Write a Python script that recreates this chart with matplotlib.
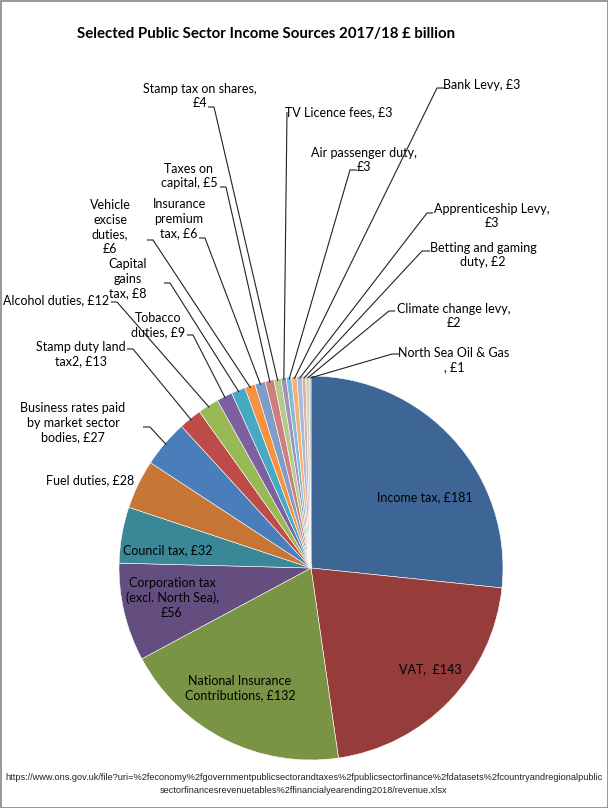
import numpy as np
import matplotlib.pyplot as plt
from matplotlib.patches import Rectangle

plt.rcParams['font.family'] = ['Lato', 'DejaVu Sans']

# data (£ billion), clockwise from 12 o'clock
names = ["Income tax", "VAT", "National Insurance Contributions",
         "Corporation tax (excl. North Sea)", "Council tax", "Fuel duties",
         "Business rates paid by market sector bodies", "Stamp duty land tax2",
         "Alcohol duties", "Tobacco duties", "Capital gains tax",
         "Vehicle excise duties", "Insurance premium tax", "Taxes on capital",
         "Stamp tax on shares", "TV Licence fees", "Air passenger duty",
         "Bank Levy", "Apprenticeship Levy", "Betting and gaming duty",
         "Climate change levy", "North Sea Oil & Gas"]
values = [181, 143, 132, 56, 32, 28, 27, 13, 12, 9, 8, 6, 6, 5, 4, 3, 3, 3, 3, 2, 2, 1]

colors = ["#3d6697", "#963c3b", "#799445", "#634e7f", "#3a8797", "#c77636",
          "#4a7ebb", "#be4b48", "#98b954", "#7d60a0", "#46aac5", "#f69240",
          "#7f9dc9", "#cd7f7d", "#b3cb8a", "#a190b9", "#7dc0d5", "#f9ae72",
          "#a7bcdb", "#dca9a8", "#ccdab4", "#bcb0ce"]

title = "Selected Public Sector Income Sources 2017/18 £ billion"
source = ("https://www.ons.gov.uk/file?uri=%2feconomy%2fgovernmentpublicsectorandtaxes%2fpublicsectorfinance%2fdatasets%2fcountryandregionalpublic\n"
          "sectorfinancesrevenuetables%2ffinancialyearending2018/revenue.xlsx")

W, H = 608, 808
fig = plt.figure(figsize=(W / 100, H / 100), dpi=100)
ax = fig.add_axes([0, 0, 1, 1])

def Y(py):
    return H - py

cx, cy, R = 311, Y(568), 192
ax.pie(values, colors=colors, startangle=90, counterclock=False,
       center=(cx, cy), radius=R, frame=True,
       wedgeprops=dict(edgecolor='white', linewidth=0.4))
ax.set_xlim(0, W)
ax.set_ylim(0, H)
ax.axis('off')

def lab(i):
    return f"£{values[i]}"

# labels inside / next to the pie: (index, text, x, y)
inside = [
    (0, f"Income tax, {lab(0)}", 425, 497),
    (1, f"VAT,  {lab(1)}", 430, 669),
    (2, f"National Insurance\nContributions, {lab(2)}", 240, 688),
    (3, f"Corporation tax\n(excl. North Sea),\n{lab(3)}", 172, 598),
    (4, f"Council tax, {lab(4)}", 168, 550),
    (5, f"Fuel duties, {lab(5)}", 90, 480),
]
for i, txt, x, y in inside:
    ax.text(x, Y(y), txt, ha='center', va='center', fontsize=9, linespacing=1.25)

# labels with leader lines: (index, text, x, y of text centre, stub x0, stub x1, stub y)
leaders = [
    (6, f"Business rates paid\nby market sector\nbodies, {lab(6)}", 73, 423, 143, 150, 427),
    (7, f"Stamp duty land\ntax2, {lab(7)}", 81, 354, 127, 133, 349),
    (8, f"Alcohol duties, {lab(8)}", 56, 300, 111, 117, 302),
    (9, f"Tobacco\nduties, {lab(9)}", 158, 325, 187, 193, 335),
    (10, f"Capital\ngains\ntax, {lab(10)}", 128, 279, 164, 170, 283),
    (11, f"Vehicle\nexcise\nduties,\n{lab(11)}", 110, 227, 147, 153, 240),
    (12, f"Insurance\npremium\ntax, {lab(12)}", 179, 219, 199, 205, 238),
    (13, f"Taxes on\ncapital, {lab(13)}", 189, 176, 220, 226, 187),
    (14, f"Stamp tax on shares,\n{lab(14)}", 200, 96, 208, 214, 107),
    (15, f"TV Licence fees, {lab(15)}", 339, 112, 287, 287, 112),
    (16, f"Air passenger duty,\n{lab(16)}", 364, 160, 357, 350, 170),
    (17, f"Bank Levy, {lab(17)}", 482, 85, 446, 437, 88),
    (18, f"Apprenticeship Levy,\n{lab(18)}", 492, 216, 433, 427, 213),
    (19, f"Betting and gaming\nduty, {lab(19)}", 483, 255, 430, 422, 251),
    (20, f"Climate change levy,\n{lab(20)}", 454, 316, 395, 389, 311),
    (21, f"North Sea Oil & Gas\n, {lab(21)}", 454, 360, 399, 392, 354),
]

total = sum(values)
cum = np.cumsum([0] + values)
for i, txt, x, y, sx0, sx1, sy in leaders:
    mid = (cum[i] + cum[i + 1]) / 2
    ang = np.deg2rad(90 - 360 * mid / total)
    px, py = cx + (R - 2) * np.cos(ang), cy + (R - 2) * np.sin(ang)
    ax.plot([sx0, sx1, px], [Y(sy), Y(sy), py], color='#222222', lw=0.8,
            solid_capstyle='butt', zorder=3)
    ax.text(x, Y(y), txt, ha='center', va='center', fontsize=9, linespacing=1.25)

ax.text(266, Y(34), title, ha='center', va='center',
        fontsize=10.8, fontweight='bold')
ax.text(W / 2, Y(784), source, ha='center', va='center', fontsize=6.6,
        family=['Liberation Sans Narrow', 'Liberation Sans', 'DejaVu Sans'],
        linespacing=1.45, color='#222222')

ax.add_patch(Rectangle((0.5, 0.5), W - 1, H - 1, fill=False,
                       edgecolor='#868686', lw=1.2, zorder=5))

fig.savefig("out.png", dpi=100)
